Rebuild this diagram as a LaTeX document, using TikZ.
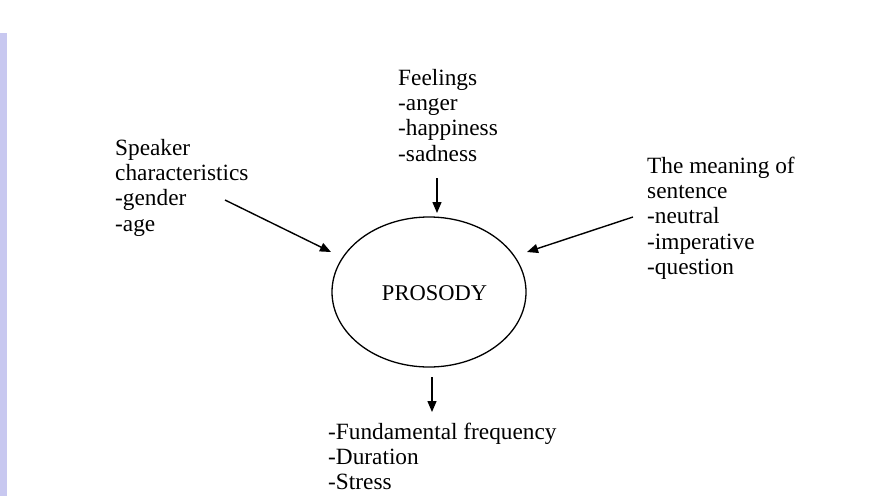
\documentclass[tikz,border=0pt]{standalone}
\usepackage{fontspec}
\setmainfont{Liberation Serif}
\usetikzlibrary{arrows.meta}
\usetikzlibrary{shapes.geometric}
\definecolor{bandblue}{HTML}{C8C8F0}
\tikzset{
  lbl/.style={anchor=base west, inner sep=0pt, font=\fontsize{23.3}{25.4}\selectfont},
  arr/.style={line width=1.4pt, -{Triangle[length=11pt,width=9pt]}},
  ell/.style={draw, line width=1.3pt, ellipse, minimum width=194pt, minimum height=150pt, inner sep=0pt}
}
\begin{document}
\begin{tikzpicture}[x=1pt,y=-1pt]
\useasboundingbox (0,0) rectangle (896,496);
\fill[white] (0,0) rectangle (896,496);
\fill[bandblue] (0,33) rectangle (7,496);
\node[ell] (pros) at (429,292) {};
\node[anchor=base, inner sep=0pt, font=\fontsize{22.5}{25.4}\selectfont] (ptxt) at (434.5,300) {PROSODY};
\node[lbl] (spk) at (115,155) {\begin{tabular}[t]{@{}l@{}}Speaker\\characteristics\\-gender\\-age\end{tabular}};
\node[lbl] (feel) at (398,85) {\begin{tabular}[t]{@{}l@{}}Feelings\\-anger\\-happiness\\-sadness\end{tabular}};
\node[lbl] (mean) at (647,173) {\begin{tabular}[t]{@{}l@{}}The meaning of\\sentence\\-neutral\\-imperative\\-question\end{tabular}};
\node[lbl] (out) at (328,439) {\begin{tabular}[t]{@{}l@{}}-Fundamental frequency\\-Duration\\-Stress\end{tabular}};
\coordinate (spkA) at (225,200);
\coordinate (spkB) at (331,252);
\coordinate (feelA) at (437,178);
\coordinate (feelB) at (437,213);
\coordinate (meanA) at (633,217);
\coordinate (meanB) at (527,252);
\coordinate (outA) at (432,377);
\coordinate (outB) at (432,412);
\draw[arr] (spkA) -- (spkB);
\draw[arr] (feelA) -- (feelB);
\draw[arr] (meanA) -- (meanB);
\draw[arr] (outA) -- (outB);
\end{tikzpicture}
\end{document}
